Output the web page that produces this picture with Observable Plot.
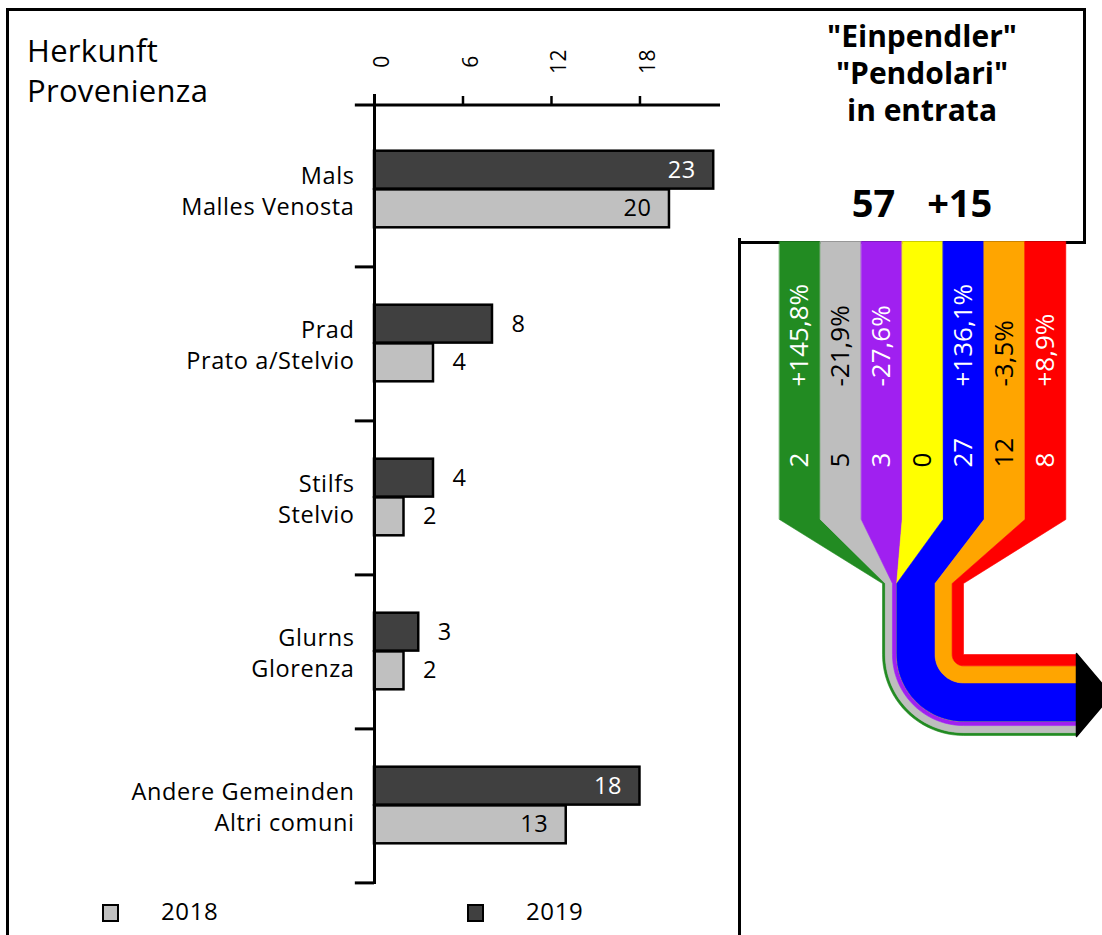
<!DOCTYPE html>
<html><head><meta charset="utf-8">
<script src="https://cdn.jsdelivr.net/npm/d3@7"></script>
<script src="https://cdn.jsdelivr.net/npm/@observablehq/plot@0.6"></script>
<style>
body{margin:0;background:#fff;font-family:"Open Sans",sans-serif;}
#page{position:relative;width:1102px;height:935px;overflow:hidden;background:#fff;}
.abs{position:absolute;}
#page svg{position:absolute;left:0;top:0;overflow:visible;}
.title{position:absolute;left:740px;width:364px;text-align:center;font-weight:700;color:#000;}
.leg{position:absolute;font-size:24px;letter-spacing:0.6px;color:#000;}
.head{position:absolute;left:27px;font-size:31px;line-height:41px;color:#000;letter-spacing:0.3px;}
.sw{position:absolute;width:13px;height:14px;border:2px solid #000;box-sizing:content-box;}
</style></head><body><div id="page"></div>
<script>
// ---- data ----
const categories = ["Mals\nMalles Venosta", "Prad\nPrato a/Stelvio", "Stilfs\nStelvio", "Glurns\nGlorenza", "Andere Gemeinden\nAltri comuni"];
const values2018 = [20, 4, 2, 2, 13];
const values2019 = [23, 8, 4, 3, 18];
const xTicks = [0, 6, 12, 18];
const years = ["2018", "2019"];
const yearColors = ["#c0c0c0", "#404040"];
const axisTitle = ["Herkunft", "Provenienza"];

const flowColors = ["#228b22", "#bebebe", "#a020f0", "#ffff00", "#0000ff", "#ffa500", "#ff0000"];
const flowValues = [2, 5, 3, 0, 27, 12, 8];
const flowChanges = ["+145,8%", "-21,9%", "-27,6%", "", "+136,1%", "-3,5%", "+8,9%"];
const flowTextColors = ["white", "black", "white", "black", "white", "black", "white"];
const titleLines = ['"Einpendler"', '"Pendolari"', 'in entrata'];
const totals = ["57", "+15"];

// ---- page frame ----
const page = document.getElementById("page");
function box(style) { const d = document.createElement("div"); d.className = "abs"; Object.assign(d.style, style); page.appendChild(d); return d; }
box({left: "6px", top: "8px", width: "734px", height: "940px", borderLeft: "3px solid #000", borderTop: "3px solid #000"});
box({left: "738px", top: "8px", width: "345px", height: "230px", borderTop: "3px solid #000", borderRight: "3px solid #000", borderBottom: "3px solid #000"});
box({left: "738px", top: "238px", width: "10px", height: "700px", borderLeft: "3px solid #000"});

// header
axisTitle.forEach((t, j) => {
  const d = document.createElement("div"); d.className = "head"; d.textContent = t;
  d.style.top = (30 + j * 40) + "px";
  page.appendChild(d);
});

// ---- bar chart ----
const rows = categories.map((c, i) => ({c, v18: values2018[i], v19: values2019[i]}));
const BAND = (884 - 110) / categories.length;
const inside = v => v >= 10;
const FS = 23.5;

const bars = Plot.plot({
  width: 740, height: 935,
  marginLeft: 374, marginRight: 20, marginTop: 110, marginBottom: 51,
  style: {fontFamily: "Open Sans", fontSize: FS + "px", letterSpacing: "0.6px", background: "transparent", overflow: "visible"},
  x: {domain: [0, 23.46], axis: null},
  y: {domain: categories, padding: 0, axis: null},
  marks: [
    Plot.barX(rows, {x: "v19", y: "c", fill: yearColors[1], stroke: "black", strokeWidth: 2.5, insetTop: BAND / 4, insetBottom: BAND / 2}),
    Plot.barX(rows, {x: "v18", y: "c", fill: yearColors[0], stroke: "black", strokeWidth: 2.5, insetTop: BAND / 2, insetBottom: BAND / 4}),
    Plot.text(rows, {x: "v19", y: "c", text: d => String(d.v19), dy: -BAND / 8,
      textAnchor: "start", fontSize: FS, filter: d => !inside(d.v19), dx: 19}),
    Plot.text(rows, {x: "v19", y: "c", text: d => String(d.v19), dy: -BAND / 8,
      textAnchor: "end", fontSize: FS, fill: "white", filter: d => inside(d.v19), dx: -18}),
    Plot.text(rows, {x: "v18", y: "c", text: d => String(d.v18), dy: BAND / 8,
      textAnchor: "start", fontSize: FS, filter: d => !inside(d.v18), dx: 19}),
    Plot.text(rows, {x: "v18", y: "c", text: d => String(d.v18), dy: BAND / 8,
      textAnchor: "end", fontSize: FS, fill: "black", filter: d => inside(d.v18), dx: -18}),
    Plot.text(categories, {y: d => d, x: 0, text: d => d, textAnchor: "end", dx: -20, lineHeight: 1.3, fontSize: FS}),
    Plot.ruleY(categories, {y: d => d, dy: BAND / 2, x1: -1.3, x2: 0, stroke: "black", strokeWidth: 3}),
    Plot.ruleY(categories.slice(0, 1), {y: d => d, dy: -BAND / 2 - 7, x1: -1.3, x2: 23.46, stroke: "black", strokeWidth: 3}),
    Plot.ruleX([0], {stroke: "black", strokeWidth: 3, insetTop: -16}),
    Plot.axisX({anchor: "top", ticks: xTicks, tickSize: 8, tickFormat: () => "", dy: -7, strokeWidth: 2.5, label: null}),
    Plot.text(xTicks, {x: d => d, text: d => String(d), frameAnchor: "top", dy: -49, rotate: -90, fontSize: 21, letterSpacing: "0px"})
  ]
});
page.appendChild(bars);

// ---- flow diagram (layout constants, px) ----
const L = {colLeft: 779, colWidth: 40.9, top: 241, colBottom: 519, bundleTop: 583, bundleLeft: 882, bundleWidth: 81, endX: 1076, arrowLen: 35, arcSteps: 24};
const total = d3.sum(flowValues);
const k = L.bundleWidth / total;
const cx = L.bundleLeft + L.bundleWidth;
const cy = 654;
const pts = [];
let cum = 0;
flowValues.forEach((v, i) => {
  const bL = L.bundleLeft + k * cum, bR = L.bundleLeft + k * (cum + v);
  cum += v;
  const rOut = cx - bL, rIn = cx - bR;
  const cL = L.colLeft + i * L.colWidth, cR = cL + L.colWidth;
  const p = [[cL, L.top], [cR, L.top], [cR, L.colBottom], [bR, L.bundleTop], [bR, cy]];
  for (let s = 0; s <= L.arcSteps; s++) { const t = Math.PI - s / L.arcSteps * Math.PI / 2; p.push([cx + rIn * Math.cos(t), cy + rIn * Math.sin(t)]); }
  p.push([L.endX, cy + rIn], [L.endX, cy + rOut]);
  for (let s = 0; s <= L.arcSteps; s++) { const t = Math.PI / 2 + s / L.arcSteps * Math.PI / 2; p.push([cx + rOut * Math.cos(t), cy + rOut * Math.sin(t)]); }
  p.push([bL, L.bundleTop], [cL, L.colBottom]);
  p.forEach(([x, y]) => pts.push({i, x, y, color: flowColors[i]}));
});
const arrow = [[L.endX, cy - 1], [L.endX + L.arrowLen, cy + L.bundleWidth / 2], [L.endX, cy + L.bundleWidth + 1]].map(([x, y]) => ({x, y}));
const cols = flowValues.map((v, i) => ({i, v, x: L.colLeft + (i + 0.5) * L.colWidth, pct: flowChanges[i], tc: flowTextColors[i]}));

const flow = Plot.plot({
  width: 1102, height: 935, margin: 0,
  style: {fontFamily: "Open Sans", background: "transparent", overflow: "visible", pointerEvents: "none"},
  x: {domain: [0, 1102], range: [0, 1102], axis: null},
  y: {domain: [0, 935], range: [0, 935], axis: null},
  color: {type: "identity"},
  marks: [
    Plot.line(pts, {x: "x", y: "y", z: "i", fill: "color", stroke: "color", strokeWidth: 0.6, curve: "linear-closed"}),
    Plot.line(arrow, {x: "x", y: "y", fill: "black", stroke: "black", curve: "linear-closed"}),
    Plot.text(cols, {x: "x", y: () => 467, text: d => String(d.v), rotate: -90, textAnchor: "start", fill: "tc", fontSize: 26}),
    Plot.text(cols, {x: "x", y: () => 386, text: "pct", rotate: -90, textAnchor: "start", fill: "tc", fontSize: 26})
  ]
});
page.appendChild(flow);

// ---- titles ----
titleLines.forEach((t, j) => {
  const d = document.createElement("div"); d.className = "title"; d.textContent = t;
  Object.assign(d.style, {top: (16 + j * 37) + "px", fontSize: "30px", lineHeight: "40px"});
  page.appendChild(d);
});
const tot = document.createElement("div"); tot.className = "title";
Object.assign(tot.style, {top: "178px", fontSize: "38px", lineHeight: "48px"});
tot.innerHTML = totals[0] + '<span style="display:inline-block;width:32px"></span>' + totals[1];
page.appendChild(tot);

// ---- legend ----
years.forEach((y, j) => {
  const x0 = j === 0 ? 102 : 467;
  const s = document.createElement("div"); s.className = "sw";
  Object.assign(s.style, {left: x0 + "px", top: "904px", background: yearColors[j]});
  page.appendChild(s);
  const t = document.createElement("div"); t.className = "leg"; t.textContent = y;
  Object.assign(t.style, {left: (x0 + 59) + "px", top: "894px"});
  page.appendChild(t);
});
</script></body></html>
